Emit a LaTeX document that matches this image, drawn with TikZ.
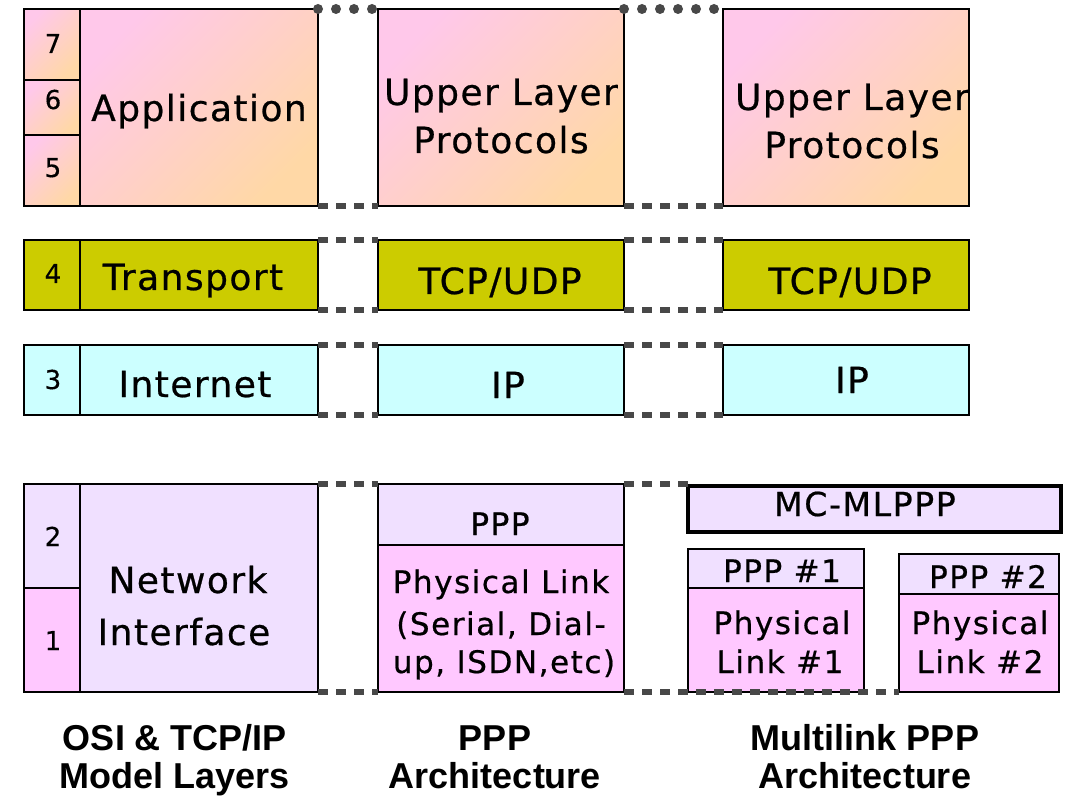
\documentclass[tikz,border=0pt]{standalone}
\usepackage{fontspec}
\setmainfont{DejaVu Sans}
\newfontfamily\capfont{Liberation Sans}
\begin{document}
\begin{tikzpicture}[x=1pt,y=-1pt,
  box/.style={draw=black,line width=2pt,rectangle,anchor=north west,inner sep=0pt,outer sep=0pt},
  warm/.style={box,top color=warmtop,bottom color=warmbot,shading angle=45},
  transp/.style={box,fill=olive},
  inet/.style={box,fill=cyanish},
  lav/.style={box,fill=lavender},
  phys/.style={box,fill=pinkish},
  lyr/.style={font=\fontsize{36}{40}\selectfont\addfontfeature{LetterSpace=4,FakeBold=0.6},anchor=base,inner sep=0pt},
  sml/.style={font=\fontsize{31}{34}\selectfont\addfontfeature{LetterSpace=5,FakeBold=0.6},anchor=base,inner sep=0pt},
  num/.style={font=\fontsize{26}{28}\selectfont\addfontfeature{FakeBold=0.4},anchor=base,inner sep=0pt},
  caption/.style={font=\capfont\bfseries\fontsize{36}{38}\selectfont,anchor=base,inner sep=0pt},
  dashline/.style={draw=linegray,line width=5.5pt,dash pattern=on 10pt off 8pt},
  dotline/.style={draw=linegray,line width=10pt,line cap=round,dash pattern=on 0pt off 18pt},
]
\definecolor{warmtop}{RGB}{255,200,234}
\definecolor{warmbot}{RGB}{255,216,166}
\definecolor{olive}{RGB}{204,204,0}
\definecolor{cyanish}{RGB}{204,255,255}
\definecolor{lavender}{RGB}{240,224,255}
\definecolor{pinkish}{RGB}{255,200,255}
\definecolor{linegray}{RGB}{72,72,72}

\useasboundingbox[fill=white] (0,0) rectangle (1074,802);

% ---- OSI & TCP/IP stack ----
\node[warm,minimum width=56pt,minimum height=71pt] (l7) at (24,9) {};
\node[warm,minimum width=56pt,minimum height=55pt] (l6) at (24,80) {};
\node[warm,minimum width=56pt,minimum height=71pt] (l5) at (24,135) {};
\node[warm,minimum width=238pt,minimum height=197pt] (app) at (80,9) {};
\node[transp,minimum width=56pt,minimum height=70pt] (l4) at (24,240) {};
\node[transp,minimum width=238pt,minimum height=70pt] (tr) at (80,240) {};
\node[inet,minimum width=56pt,minimum height=70pt] (l3) at (24,345) {};
\node[inet,minimum width=238pt,minimum height=70pt] (inet1) at (80,345) {};
\node[lav,minimum width=56pt,minimum height=104pt] (l2) at (24,484) {};
\node[phys,minimum width=56pt,minimum height=104pt] (l1) at (24,588) {};
\node[lav,minimum width=238pt,minimum height=208pt] (ni) at (80,484) {};

% ---- PPP stack ----
\node[warm,minimum width=246pt,minimum height=197pt] (ulp2) at (378,9) {};
\node[transp,minimum width=246pt,minimum height=70pt] (tcp2) at (378,240) {};
\node[inet,minimum width=246pt,minimum height=70pt] (ip2) at (378,345) {};
\node[lav,minimum width=246pt,minimum height=61pt] (ppp) at (378,484) {};
\node[phys,minimum width=246pt,minimum height=147pt] (phy) at (378,545) {};

% ---- Multilink PPP stack ----
\node[warm,minimum width=246pt,minimum height=197pt] (ulp3) at (723,9) {};
\node[transp,minimum width=246pt,minimum height=70pt] (tcp3) at (723,240) {};
\node[inet,minimum width=246pt,minimum height=70pt] (ip3) at (723,345) {};
\node[lav,line width=4.5pt,minimum width=373pt,minimum height=46pt] (mc) at (688,486) {};
\node[lav,minimum width=176pt,minimum height=39pt] (ppp1) at (688,549) {};
\node[phys,minimum width=176pt,minimum height=104pt] (phy1) at (688,588) {};
\node[lav,minimum width=160pt,minimum height=40pt] (ppp2) at (899,554) {};
\node[phys,minimum width=160pt,minimum height=98pt] (phy2) at (899,594) {};

% ---- layer correspondence lines ----
\draw[dotline] (app.north east) -- (ulp2.north west);
\draw[dotline] (ulp2.north east) -- (ulp3.north west);
\draw[dashline] (app.south east) -- (ulp2.south west);
\draw[dashline] (ulp2.south east) -- (ulp3.south west);
\draw[dashline] (tr.north east) -- (tcp2.north west);
\draw[dashline] (tcp2.north east) -- (tcp3.north west);
\draw[dashline] (tr.south east) -- (tcp2.south west);
\draw[dashline] (tcp2.south east) -- (tcp3.south west);
\draw[dashline] (inet1.north east) -- (ip2.north west);
\draw[dashline] (ip2.north east) -- (ip3.north west);
\draw[dashline] (inet1.south east) -- (ip2.south west);
\draw[dashline] (ip2.south east) -- (ip3.south west);
\draw[dashline] (ni.north east) -- (ppp.north west);
\draw[dashline] (ppp.north east) -- ([yshift=2pt]mc.north west);
\draw[dashline] (ni.south east) -- (phy.south west);
\draw[dashline] (phy.south east) -- (phy2.south west);

% ---- labels ----
\node[num] at (53,53) {7};
\node[num] at (53,109) {6};
\node[num] at (53,177) {5};
\node[num] at (53,283) {4};
\node[num] at (53,389) {3};
\node[num] at (53,546) {2};
\node[num] at (53,650) {1};

\node[lyr] at (199,121) {Application};
\node[lyr] at (193,290) {Transport};
\node[lyr] at (195,397) {Internet};
\node[lyr] at (188,593) {Network};
\node[lyr] at (184,645) {Interface};

\node[lyr] at (501,105) {Upper Layer};
\node[lyr] at (501,153) {Protocols};
\node[lyr] at (500,294) {TCP/UDP};
\node[lyr] at (508,398) {IP};
\node[sml] at (500,535) {PPP};
\node[sml] at (501,593) {Physical Link};
\node[sml] at (501,635) {(Serial, Dial-};
\node[sml] at (504,673) {up, ISDN,etc)};

\node[lyr] at (852,110) {Upper Layer};
\node[lyr] at (852,158) {Protocols};
\node[lyr] at (850,294) {TCP/UDP};
\node[lyr] at (852,393) {IP};
\node[sml,font=\fontsize{33}{36}\selectfont\addfontfeature{LetterSpace=5,FakeBold=0.6}] at (865,516) {MC-MLPPP};
\node[sml] at (782,582) {PPP \#1};
\node[sml] at (782,634) {Physical};
\node[sml] at (780,673) {Link \#1};
\node[sml] at (988,588) {PPP \#2};
\node[sml] at (980,634) {Physical};
\node[sml] at (980,673) {Link \#2};

\node[caption] at (175,750) {OSI \& TCP/IP};
\node[caption] at (175,788) {Model Layers};
\node[caption] at (495,750) {PPP};
\node[caption] at (495,788) {Architecture};
\node[caption] at (865,750) {Multilink PPP};
\node[caption] at (865,788) {Architecture};
\end{tikzpicture}
\end{document}
